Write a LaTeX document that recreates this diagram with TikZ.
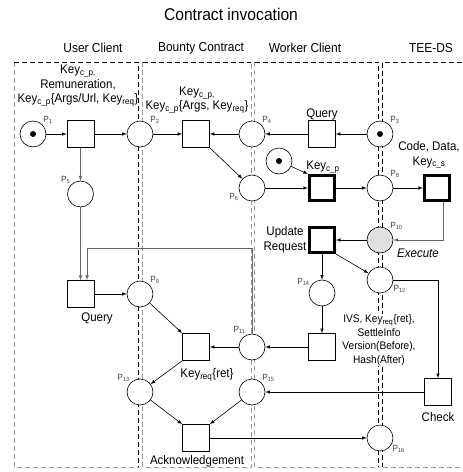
\documentclass[tikz,border=0pt]{standalone}
\usepackage{fontspec}
\setmainfont{Liberation Sans}[FakeStretch=0.92]
\usetikzlibrary{arrows}
\tikzset{
	place/.style={circle, draw, fill=white, minimum size=26pt, inner sep=0pt, line width=0.6pt},
	trans/.style={rectangle, draw, fill=white, minimum size=27pt, inner sep=0pt, line width=0.6pt},
	boldtrans/.style={trans, line width=2.6pt, minimum size=25.5pt},
	token/.style={circle, fill, minimum size=6pt, inner sep=0pt},
	plab/.style={font=\fontsize{9}{9}\selectfont, inner sep=0.8pt, text=black!75},
	txt/.style={font=\fontsize{12.5}{14.5}\selectfont, align=center, inner sep=0pt},
	small txt/.style={font=\fontsize{11}{13.5}\selectfont, align=center, inner sep=1pt, fill=white},
	head/.style={font=\fontsize{13}{13}\selectfont, inner sep=0pt},
	arc/.style={-latex, line width=0.6pt},
	garc/.style={-latex, line width=0.7pt, draw=black!60},
	laneblack/.style={dash pattern=on 5pt off 3pt, line width=0.7pt},
	lanegray/.style={dash pattern=on 5pt off 3pt, line width=0.7pt, draw=black!40}
}
\begin{document}
\begin{tikzpicture}[x=1pt, y=-1pt]
		\useasboundingbox (0,0) rectangle (463,472);
		% Lanes:
		\draw[lanegray] (14,62) -- (14,467) -- (138.5,467);
		\draw[laneblack] (14,62) -- (138.5,62) -- (138.5,467);
		\draw[laneblack] (142.5,62) -- (251,62);
		\draw[lanegray] (142.5,62) -- (142.5,467) -- (251,467) -- (251,62);
		\draw[laneblack] (254.5,62) -- (378.5,62) -- (378.5,467);
		\draw[lanegray] (254.5,62) -- (254.5,467) -- (378.5,467);
		\draw[laneblack] (470,62) -- (382.5,62) -- (382.5,467);
		\draw[lanegray] (382.5,467) -- (470,467);
		% Headings:
		\node[font=\fontsize{17}{17}\selectfont] (Title) at (231,14) {Contract invocation};
		\node[head] (HUser) at (93,48) {User Client};
		\node[head] (HBounty) at (201,48) {Bounty Contract};
		\node[head] (HWorker) at (305,48) {Worker Client};
		\node[head] (HTee) at (431,48) {TEE-DS};
		% Places:
		\node[place, label={[plab]45:P\textsubscript{1}}] (P1) at (33,134){};
		\node[token] (K1) at (P1){};
		\node[place, label={[plab]45:P\textsubscript{2}}] (P2) at (140,134){};
		\node[place, label={[plab]45:P\textsubscript{4}}] (P4) at (252,134){};
		\node[place, label={[plab]45:P\textsubscript{3}}] (P3) at (380,134){};
		\node[token] (K3) at (P3){};
		\node[place, label={[plab]135:P\textsubscript{5}}] (P5) at (80.5,194){};
		\node[place, label={[plab]200:P\textsubscript{6}}] (P6) at (252,188){};
		\node[place] (P7) at (279,161){};
		\node[token] (K7) at (P7){};
		\node[place, label={[plab]45:P\textsubscript{8}}] (P8) at (380,188){};
		\node[place, fill=black!12, label={[plab]45:P\textsubscript{10}}] (P10) at (380,240){};
		\node[place, label={[plab]-20:P\textsubscript{12}}] (P12) at (380,280){};
		\node[place, label={[plab]150:P\textsubscript{14}}] (P14) at (322,293){};
		\node[place, label={[plab]45:P\textsubscript{9}}] (P9) at (140,294){};
		\node[place, label={[plab]115:P\textsubscript{11}}] (P11) at (252,347){};
		\node[place, label={[plab]135:P\textsubscript{13}}] (P13) at (140,392){};
		\node[place, label={[plab]45:P\textsubscript{15}}] (P15) at (252,392){};
		\node[place, label={[plab]-30:P\textsubscript{16}}] (P16) at (380,438){};
		% Transitions:
		\node[trans] (Start) at (80.5,134){};
		\node[trans] (Offer) at (196,134){};
		\node[trans] (Query) at (322,134){};
		\node[boldtrans] (Take) at (322,188){};
		\node[boldtrans] (Run) at (437,188){};
		\node[boldtrans] (Update) at (322,240){};
		\node[trans] (Ask) at (80.5,294){};
		\node[trans] (Report) at (322,347){};
		\node[trans] (Result) at (196,347){};
		\node[trans] (Check) at (438,392){};
		\node[trans] (Ack) at (196,438){};
		% Texts:
		\node[txt] (LUser) at (78,86){Key\textsubscript{c\_p,}\\Remuneration,\\Key\textsubscript{c\_p}\{Args/Url, Key\textsubscript{req}\}};
		\node[txt] (LBounty) at (197,100){Key\textsubscript{c\_p,}\\Key\textsubscript{c\_p}\{Args, Key\textsubscript{req}\}};
		\node[txt] (LQuery) at (322,114){Query};
		\node[txt] (LTake) at (323,167){Key\textsubscript{c\_p}};
		\node[txt] (LRun) at (429,155){Code, Data,\\Key\textsubscript{c\_s}};
		\node[txt] (LUpdate) at (285,240){Update\\Request};
		\node[txt, font=\fontsize{12.5}{14.5}\selectfont\itshape] (LExec) at (418,253){Execute};
		\node[txt] (LAsk) at (97,318){Query};
		\node[small txt] (LReport) at (379,340){IVS, Key\textsubscript{req}\{ret\},\\SettleInfo\\Version(Before),\\Hash(After)};
		\node[txt] (LResult) at (207,375){Key\textsubscript{req}\{ret\}};
		\node[txt] (LCheck) at (438,417){Check};
		\node[txt] (LAck) at (197,461){Acknowledgement};
		% Arcs:
		\coordinate (Bend) at (87,248);
		\draw[arc] (P1) -- (Start);
		\draw[arc] (Start) -- (P2);
		\draw[garc] (Start) -- (P5);
		\draw[arc] (P2) -- (Offer);
		\draw[arc] (P4) -- (Offer);
		\draw[arc] (Query) -- (P4);
		\draw[arc] (P3) -- (Query);
		\draw[arc] (Offer.south east) -- (P6);
		\draw[arc] (P7) -- (Take.north west);
		\draw[arc] (P6) -- (Take);
		\draw[arc] (Take) -- (P8);
		\draw[arc] (P8) -- (Run);
		\draw[garc] ([xshift=6pt]Run.south) |- (P10);
		\draw[arc] (P10) -- (Update);
		\draw[arc] (Update) -- (P14);
		\draw[arc] (Update.south east) -- (P12);
		\draw[arc] (P14) -- (Report);
		\draw[arc] (Report) -- (P11);
		\draw[arc] (P11) -- (Result);
		\draw[garc] (P11.north) |- (Bend) -- (Bend |- Ask.north);
		\draw[garc] (P5) -- (Ask);
		\draw[arc] (Ask) -- (P9);
		\draw[arc] (P9) -- (Result.north west);
		\draw[arc] (Result.south west) -- (P13);
		\draw[arc] (P12) -| (Check);
		\draw[arc] (Check) -- (P15);
		\draw[arc] (P13) -- (Ack.north west);
		\draw[arc] (P15) -- (Ack.north east);
		\draw[arc] (Ack) -- (P16);
	\end{tikzpicture}
\end{document}
